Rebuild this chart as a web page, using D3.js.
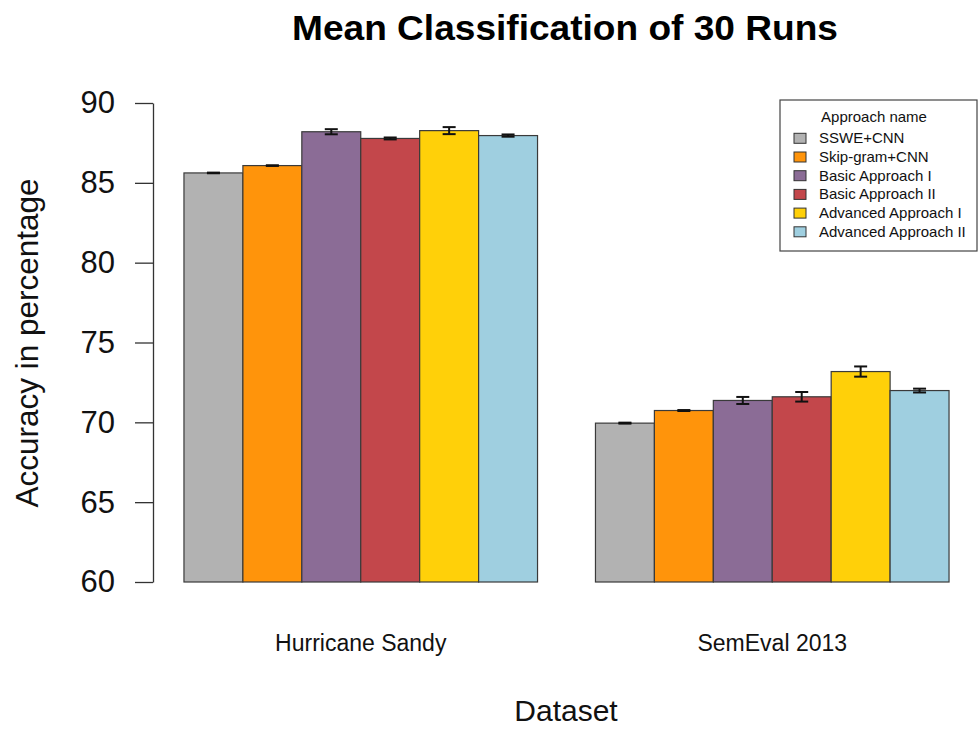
<!DOCTYPE html>
<html><head><meta charset="utf-8">
<script src="https://cdn.jsdelivr.net/npm/d3@7"></script>
<style>body{margin:0;background:#fff}svg{display:block}text{font-family:"Liberation Sans",Arial,sans-serif}</style>
</head><body><svg id="c" width="978" height="729"></svg>
<script>
const groups = ["Hurricane Sandy", "SemEval 2013"];
const seriesNames = ["SSWE+CNN", "Skip-gram+CNN", "Basic Approach I", "Basic Approach II", "Advanced Approach I", "Advanced Approach II"];
const colors = ["#b2b2b2", "#ff940b", "#8b6c96", "#c3474b", "#ffd009", "#9fcfe0"];
const hurricaneMeans = [85.62, 86.08, 88.2, 87.78, 88.27, 87.96];
const hurricaneErr = [0.02, 0.02, 0.16, 0.06, 0.22, 0.07];
const semevalMeans = [69.95, 70.74, 71.37, 71.6, 73.18, 71.99];
const semevalErr = [0.03, 0.03, 0.22, 0.3, 0.32, 0.12];
const yTicks = [60, 65, 70, 75, 80, 85, 90];

const means = [hurricaneMeans, semevalMeans];
const errs = [hurricaneErr, semevalErr];

const svg = d3.select("#c");
const y = d3.scaleLinear().domain([60, 90]).range([582, 103]);
const x0 = d3.scaleBand().domain(groups).range([155, 978]).paddingInner(0.1408).paddingOuter(0.0704);
const x1 = d3.scaleBand().domain(seriesNames).range([0, x0.bandwidth()]).padding(0);

// bars
groups.forEach((g, gi) => {
  const gg = svg.append("g").attr("transform", `translate(${x0(g)},0)`);
  seriesNames.forEach((s, si) => {
    const v = means[gi][si];
    gg.append("rect")
      .attr("x", x1(s)).attr("width", x1.bandwidth())
      .attr("y", y(v)).attr("height", y(60) - y(v))
      .attr("fill", colors[si]).attr("stroke", "#3a3a3a").attr("stroke-width", 1.2);
  });
  seriesNames.forEach((s, si) => {
    const v = means[gi][si], e = errs[gi][si];
    const cx = x1(s) + x1.bandwidth() / 2;
    const ew = gg.append("g").attr("stroke", "#111").attr("stroke-width", 2);
    ew.append("line").attr("x1", cx).attr("x2", cx).attr("y1", y(v - e)).attr("y2", y(v + e));
    ew.append("line").attr("x1", cx - 6.5).attr("x2", cx + 6.5).attr("y1", y(v - e)).attr("y2", y(v - e));
    ew.append("line").attr("x1", cx - 6.5).attr("x2", cx + 6.5).attr("y1", y(v + e)).attr("y2", y(v + e));
  });
  svg.append("text").attr("x", x0(g) + x0.bandwidth() / 2).attr("y", 651)
    .attr("text-anchor", "middle").attr("font-size", 23).attr("fill", "#111").text(g);
});

// y axis
const ax = svg.append("g").attr("transform", "translate(153,0)")
  .call(d3.axisLeft(y).tickValues(yTicks).tickSize(18).tickPadding(20).tickSizeOuter(0));
ax.select(".domain").attr("stroke", "#333").attr("stroke-width", 1.3);
ax.selectAll(".tick line").attr("stroke", "#333").attr("stroke-width", 1.3);
ax.selectAll(".tick text").attr("font-size", 31).attr("fill", "#111").attr("font-family", "Liberation Sans, Arial, sans-serif");

// titles
svg.append("text").attr("x", 565).attr("y", 40).attr("text-anchor", "middle")
  .attr("font-size", 35).attr("font-weight", "bold").attr("fill", "#000")
  .attr("textLength", 546).attr("lengthAdjust", "spacingAndGlyphs")
  .text("Mean Classification of 30 Runs");
svg.append("text").attr("x", 566).attr("y", 721).attr("text-anchor", "middle")
  .attr("font-size", 30).attr("fill", "#111").text("Dataset");
svg.append("text").attr("transform", "translate(38,343) rotate(-90)").attr("text-anchor", "middle")
  .attr("font-size", 31.5).attr("fill", "#111").text("Accuracy in percentage");

// legend
const lg = svg.append("g");
lg.append("rect").attr("x", 780).attr("y", 100).attr("width", 197).attr("height", 151)
  .attr("fill", "#fff").attr("stroke", "#444").attr("stroke-width", 1.2);
lg.append("text").attr("x", 874).attr("y", 121.5).attr("text-anchor", "middle")
  .attr("font-size", 15).attr("fill", "#111").text("Approach name");
seriesNames.forEach((s, i) => {
  const yy = 143.3 + i * 18.7;
  lg.append("rect").attr("x", 794).attr("y", yy - 10).attr("width", 12).attr("height", 10)
    .attr("fill", colors[i]).attr("stroke", "#333").attr("stroke-width", 1);
  lg.append("text").attr("x", 819).attr("y", yy).attr("font-size", 15).attr("fill", "#111").text(s);
});
</script></body></html>
